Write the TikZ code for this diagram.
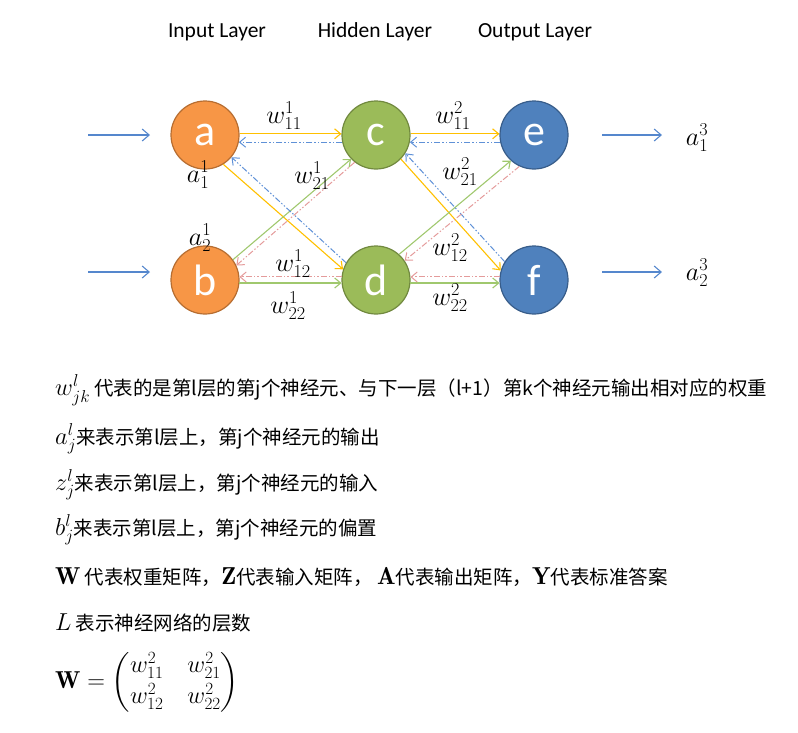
\RequirePackage{fix-cm}
\documentclass[tikz,border=0pt]{standalone}
\usepackage{amsmath}
\usepackage{fontspec}
\usepackage{xcolor}
\usepackage{tikz}
\usetikzlibrary{arrows.meta, positioning, calc}
\newfontfamily\cjk{Noto Sans CJK SC}
\newfontfamily\calibri{Carlito}
\definecolor{inputcolor}{RGB}{247, 150, 70}
\definecolor{inputborder}{RGB}{182, 109, 49}
\definecolor{hiddencolor}{RGB}{155, 187, 89}
\definecolor{hiddenborder}{RGB}{113, 137, 63}
\definecolor{outputcolor}{RGB}{79, 129, 189}
\definecolor{outputborder}{RGB}{56, 93, 138}
\definecolor{fwdyellow}{RGB}{255, 192, 0}
\definecolor{fwdgreen}{RGB}{160, 200, 110}
\definecolor{backblue}{RGB}{95, 145, 215}
\definecolor{backpink}{RGB}{228, 155, 155}
\definecolor{iocolor}{RGB}{85, 135, 205}
\newcommand{\notemath}[1]{{\fontsize{24.5}{27}\selectfont$#1$}}
\tikzstyle{neuron} = [circle, minimum size=68pt, inner sep=0pt, line width=1.2pt, text=white, font=\calibri\fontsize{44}{44}\selectfont]
\tikzstyle{inputneuron} = [neuron, fill=inputcolor, draw=inputborder]
\tikzstyle{hiddenneuron} = [neuron, fill=hiddencolor, draw=hiddenborder]
\tikzstyle{outputneuron} = [neuron, fill=outputcolor, draw=outputborder]
\tikzstyle{fwd} = [line width=1.1pt, -{Straight Barb[length=6pt, width=10pt]}]
\tikzstyle{back} = [line width=1pt, dash pattern=on 6pt off 2pt on 1.5pt off 2pt on 1.5pt off 2pt, -{Straight Barb[length=6pt, width=10pt]}]
\tikzstyle{ioarrow} = [line width=1.1pt, iocolor, -{Straight Barb[length=7pt, width=12pt]}]
\tikzstyle{weight} = [font=\fontsize{26}{28}\selectfont, inner sep=1pt]
\tikzstyle{layertitle} = [font=\calibri\fontsize{21.5}{24}\selectfont]
\tikzstyle{noteline} = [anchor=base west, inner sep=0pt, font=\cjk\fontsize{19.5}{22}\selectfont]

\begin{document}
\begin{tikzpicture}[x=1pt, y=-1pt, node distance=145pt]
    \useasboundingbox (0,0) rectangle (798,732);

    % Layer titles
    \node[layertitle] (tin) at (217,32) {Input Layer};
    \node[layertitle] (thid) at (375,32) {Hidden Layer};
    \node[layertitle] (tout) at (535,32) {Output Layer};

    % Neurons
    \node[inputneuron] (a) at (205,135) {a};
    \node[inputneuron, below of=a] (b) {b};
    \node[hiddenneuron, right of=a, xshift=26pt] (c) {c};
    \node[hiddenneuron, below of=c] (d) {d};
    \node[outputneuron, right of=c, xshift=13pt] (e) {e};
    \node[outputneuron, below of=e] (f) {f};

    % Input and output arrows
    \coordinate (x1s) at (88,135);
    \coordinate (x1e) at (150,135);
    \coordinate (x2s) at (88,272);
    \coordinate (x2e) at (150,272);
    \coordinate (y1s) at (602,135);
    \coordinate (y1e) at (662,135);
    \coordinate (y2s) at (602,272);
    \coordinate (y2e) at (662,272);
    \draw[ioarrow] (x1s) -- (x1e);
    \draw[ioarrow] (x2s) -- (x2e);
    \draw[ioarrow] (y1s) -- (y1e);
    \draw[ioarrow] (y2s) -- (y2e);
    \node[weight] (a13) at (697,138) {$a_1^3$};
    \node[weight] (a23) at (697,273) {$a_2^3$};

    % Forward connections, layer 1
    \draw[fwd, fwdyellow] (a.2) -- (c.178);
    \draw[fwd, fwdyellow] (a.-58) -- (d.162);
    \draw[fwd, fwdgreen] (b.36) -- (c.-136);
    \draw[fwd, fwdgreen] (b.-5) -- (d.185);

    % Backward connections, layer 1
    \draw[back, backblue] (c.192) -- (a.-12);
    \draw[back, backblue] (d.150) -- (a.-40);
    \draw[back, backpink] (c.-128) -- (b.25);
    \draw[back, backpink] (d.175) -- (b.5);

    % Forward connections, layer 2
    \draw[fwd, fwdyellow] (c.2) -- (e.178);
    \draw[fwd, fwdyellow] (c.-44) -- (f.164);
    \draw[fwd, fwdgreen] (d.48) -- (e.-132);
    \draw[fwd, fwdgreen] (d.-5) -- (f.185);

    % Backward connections, layer 2
    \draw[back, backblue] (e.192) -- (c.-12);
    \draw[back, backblue] (f.148) -- (c.-32);
    \draw[back, backpink] (e.-115) -- (d.34);
    \draw[back, backpink] (f.175) -- (d.5);

    % Weight and activation labels
    \node[weight] (w111) at (284,116) {$w_{11}^1$};
    \node[weight] (w121) at (312,176) {$w_{21}^1$};
    \node[weight] (w112) at (293,264) {$w_{12}^1$};
    \node[weight] (w122) at (288,306) {$w_{22}^1$};
    \node[weight] (a11) at (198,175) {$a_1^1$};
    \node[weight] (a21) at (200,238) {$a_2^1$};
    \node[weight] (w211) at (453,116) {$w_{11}^2$};
    \node[weight] (w221) at (460,172) {$w_{21}^2$};
    \node[weight] (w212) at (450,248) {$w_{12}^2$};
    \node[weight] (w222) at (450,298) {$w_{22}^2$};

    % Notation notes
    \node[noteline] (n1) at (55,395) {\notemath{w_{jk}^l} 代表的是第l层的第j个神经元、与下一层（l+1）第k个神经元输出相对应的权重};
    \node[noteline] (n2) at (55,444) {\notemath{a_j^l}来表示第l层上，第j个神经元的输出};
    \node[noteline] (n3) at (55,490) {\notemath{z_j^l}来表示第l层上，第j个神经元的输入};
    \node[noteline] (n4) at (55,535) {\notemath{b_j^l}来表示第l层上，第j个神经元的偏置};
    \node[noteline] (n5) at (55,584) {\notemath{\mathbf{W}} 代表权重矩阵，\notemath{\mathbf{Z}}代表输入矩阵， \notemath{\mathbf{A}}代表输出矩阵，\notemath{\mathbf{Y}}代表标准答案};
    \node[noteline] (n6) at (55,630) {\notemath{L} 表示神经网络的层数};
    \node[noteline] (n7) at (55,688) {\notemath{\setlength{\arraycolsep}{12pt}\renewcommand{\arraystretch}{1.15}\mathbf{W} = \begin{pmatrix} w_{11}^2 & w_{21}^2 \\ w_{12}^2 & w_{22}^2 \end{pmatrix}}};
\end{tikzpicture}
\end{document}
